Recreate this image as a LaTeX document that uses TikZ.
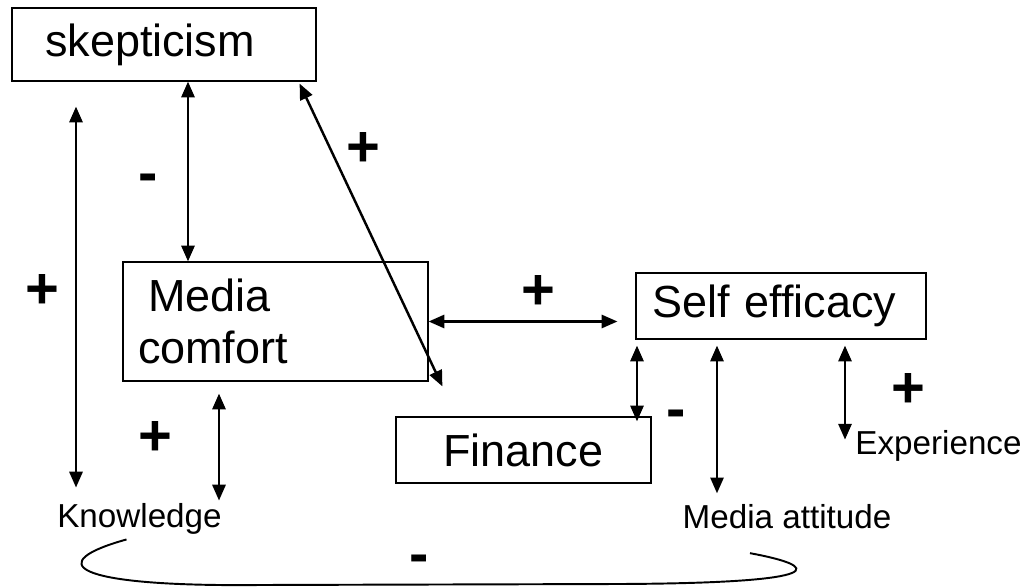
\documentclass[tikz,border=0pt]{standalone}
\usepackage{fontspec}
\setmainfont{Liberation Sans}
\usetikzlibrary{arrows.meta,calc}
\newcommand{\bigtext}{\fontsize{25.6}{29.4}\selectfont}
\newcommand{\smalltext}{\fontsize{18.9}{22}\selectfont}
\newcommand{\signtext}{\fontsize{33}{38}\selectfont\bfseries}

\begin{document}
\begin{tikzpicture}[>={Triangle[length=9pt,width=7.5pt]},<->,line width=1.4pt,
 x=0.02cm, y=-0.02cm,
 box/.style={draw, line width=0.7pt, font=\bigtext},
 tag/.style={font=\smalltext, inner sep=1pt},
 sign/.style={font=\signtext, inner sep=0pt}]
\useasboundingbox (0,0) rectangle (1031,587);
\node[box, text width=4.76cm, inner xsep=0.66cm, minimum height=1.46cm, align=left] (skep) at (164, 44.5) {skepticism};
\node[box, text width=5.5cm, inner xsep=0.3cm, minimum height=2.38cm, align=left] (media) at (275.5, 321.5) {\hspace*{0.2cm}Media\\comfort};
\node[box, text width=5.16cm, inner xsep=0.32cm, minimum height=1.32cm, align=left] (self) at (781, 306) {Self efficacy};
\node[box, minimum width=5.1cm, minimum height=1.32cm] (finance) at (523.5, 450) {Finance};
\node[tag] (knowledge) at (139.5, 519) {Knowledge};
\node[tag] (attitude) at (787, 517) {Media attitude};
\node[tag] (experience) at (938.5, 445.6) {Experience};
% signs
\node[sign] (s1) at (42, 292) {+};
\node[sign] (s2) at (148, 183) {-};
\node[sign] (s3) at (363, 150) {+};
\node[sign] (s4) at (538, 293) {+};
\node[sign] (s5) at (155, 438) {+};
\node[sign] (s6) at (676, 419) {-};
\node[sign] (s7) at (908, 390) {+};
\node[sign] (s8) at (419, 564) {-};
% links
\draw[shorten <=0.5cm, shorten >=0.26cm] (skep.south -| 76,0) -- (knowledge.north -| 76,0);
\draw (skep.south -| 188,0) -- (media.north -| 188,0);
\draw ($(skep.south east)+(-17,2)$) -- ($(finance.north west)+(47,-30)$);
\draw[shorten >=0.36cm] (media.east) -- (media.east -| self.west);
\draw[shorten <=0.24cm] (media.south -| 219,0) -- (knowledge.north -| 219,0);
\draw[shorten <=0.12cm, shorten >=-0.1cm] (self.south -| 637,0) -- (finance.north -| 637,0);
\draw[shorten <=0.12cm, shorten >=0.17cm] (self.south -| 717,0) -- (attitude.north -| 717,0);
\draw[shorten <=0.12cm, shorten >=0.12cm] (self.south -| 845,0) -- (experience.west -| 845,0);
% brace
\draw[-, line width=1.1pt] ($(knowledge.south)+(-13,2)$) .. controls (45,562) and (65,587) .. (260,585) -- (620,584) .. controls (835,583) and (820,566) .. ($(attitude.south)+(-37,21)$);
\end{tikzpicture}
\end{document}
